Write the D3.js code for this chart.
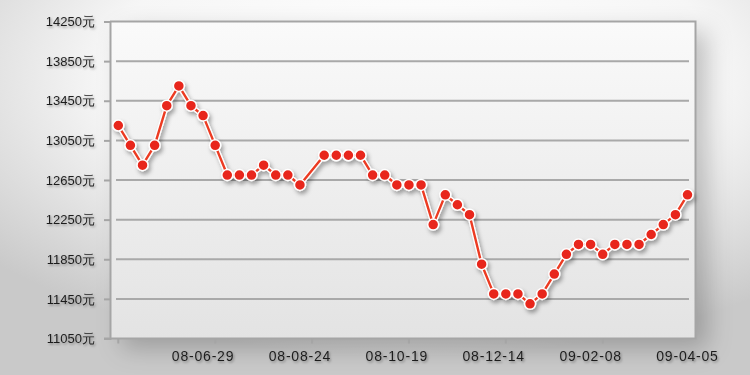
<!DOCTYPE html>
<html>
<head>
<meta charset="utf-8">
<script src="https://cdnjs.cloudflare.com/ajax/libs/d3/7.8.5/d3.min.js"></script>
<style>
  html, body { margin: 0; padding: 0; }
  body { width: 750px; height: 375px; overflow: hidden; background: #fff; }
  text { font-family: "Liberation Sans", Arial, sans-serif; fill: #1e1e1e; }
</style>
</head>
<body>
<div id="area"></div>
<script>
// weekly prices (元), one missing week on 08-08-31
const weeks = ['08-05-11','08-05-18','08-05-25','08-06-01','08-06-08','08-06-15','08-06-22','08-06-29',
  '08-07-06','08-07-13','08-07-20','08-07-27','08-08-03','08-08-10','08-08-17','08-08-24',
  '08-08-31','08-09-07','08-09-14','08-09-21','08-09-28','08-10-05','08-10-12','08-10-19',
  '08-10-26','08-11-02','08-11-09','08-11-16','08-11-23','08-11-30','08-12-07','08-12-14',
  '08-12-21','08-12-28','09-01-04','09-01-11','09-01-18','09-01-25','09-02-01','09-02-08',
  '09-02-15','09-02-22','09-03-01','09-03-08','09-03-15','09-03-22','09-03-29','09-04-05']
const prices = [13200,13000,12800,13000,13400,13600,13400,13300,
  13000,12700,12700,12700,12800,12700,12700,12600,
  null,12900,12900,12900,12900,12700,12700,12600,
  12600,12600,12200,12500,12400,12300,11800,11500,
  11500,11500,11400,11500,11700,11900,12000,12000,
  11900,12000,12000,12000,12100,12200,12300,12500]
const yTicks = [11050,11450,11850,12250,12650,13050,13450,13850,14250]
const xLabels = ['08-06-29','08-08-24','08-10-19','08-12-14','09-02-08','09-04-05']
const xTickMarks = ['08-05-11','08-07-06','08-08-31','08-10-26','08-12-21','09-02-15']

const parse = d3.timeParse('%y-%m-%d')
const data = weeks.map((w, i) => ({ date: parse(w), price: prices[i] }))
                  .filter(d => d.price !== null)

const svg = d3.select('#area')
            .append('svg')
            .attr('width', 750)
            .attr('height', 375)

const defs = svg.append('defs')

const bg = defs.append('radialGradient').attr('id', 'bg')
  .attr('cx', '55%').attr('cy', '20%').attr('r', '75%')
bg.append('stop').attr('offset', '0%').attr('stop-color', '#ffffff')
bg.append('stop').attr('offset', '55%').attr('stop-color', '#f6f6f6')
bg.append('stop').attr('offset', '100%').attr('stop-color', '#c9c9c9')

const plotBg = defs.append('linearGradient').attr('id', 'plotBg')
  .attr('x1', 0).attr('y1', 0).attr('x2', 0).attr('y2', 1)
plotBg.append('stop').attr('offset', '0%').attr('stop-color', '#fafafa')
plotBg.append('stop').attr('offset', '100%').attr('stop-color', '#e3e3e3')

const frameShadow = defs.append('filter').attr('id', 'frameShadow')
  .attr('x', '-10%').attr('y', '-10%').attr('width', '130%').attr('height', '130%')
frameShadow.append('feDropShadow').attr('dx', 12).attr('dy', 10)
  .attr('stdDeviation', 12).attr('flood-color', '#000').attr('flood-opacity', 0.22)

const textShadow = defs.append('filter').attr('id', 'textShadow')
  .attr('x', '-20%').attr('y', '-50%').attr('width', '150%').attr('height', '200%')
textShadow.append('feDropShadow').attr('dx', 1.2).attr('dy', 1.5)
  .attr('stdDeviation', 1).attr('flood-color', '#000').attr('flood-opacity', 0.35)

const markShadow = defs.append('filter').attr('id', 'markShadow')
  .attr('x', '-20%').attr('y', '-20%').attr('width', '140%').attr('height', '140%')
markShadow.append('feDropShadow').attr('dx', 2).attr('dy', 3)
  .attr('stdDeviation', 2).attr('flood-color', '#000').attr('flood-opacity', 0.35)

svg.append('rect')
   .attr('width', 750).attr('height', 375)
   .attr('fill', 'url(#bg)')

const xScale = d3.scaleTime()
                 .domain([parse('08-05-11'), parse('09-04-05')])
                 .range([118.3, 687.5])
const yScale = d3.scaleLinear()
                 .domain([11050, 14250])
                 .range([338.5, 21.5])

const plotLeft = 110, plotRight = 695.5
const plotTop = yScale(14250), plotBottom = yScale(11050)

// plot area
svg.append('rect')
   .attr('x', plotLeft).attr('y', plotTop)
   .attr('width', plotRight - plotLeft).attr('height', plotBottom - plotTop)
   .attr('fill', 'url(#plotBg)')
   .attr('filter', 'url(#frameShadow)')

// gridlines
svg.selectAll('.grid')
   .data(yTicks.slice(1, -1))
   .enter()
   .append('line')
   .attr('class', 'grid')
   .attr('x1', 116).attr('x2', 689)
   .attr('y1', d => yScale(d)).attr('y2', d => yScale(d))
   .attr('stroke', '#a9a9a9')
   .attr('stroke-width', 2)

// frame: top and right
svg.append('path')
   .attr('d', `M${plotLeft},${plotTop}H${plotRight}V${plotBottom}`)
   .attr('fill', 'none')
   .attr('stroke', '#a5a5a5')
   .attr('stroke-width', 2)

// y axis
const yAxis = svg.append('g')
   .attr('transform', `translate(${plotLeft},0)`)
   .call(d3.axisLeft(yScale).tickValues(yTicks).tickSize(6).tickPadding(9)
           .tickFormat(d => d + '元'))
yAxis.select('.domain').attr('stroke', '#a5a5a5').attr('stroke-width', 2)
yAxis.selectAll('.tick line').attr('stroke', '#a5a5a5').attr('stroke-width', 2)
   .filter(d => d === 14250).remove()
yAxis.selectAll('.tick text')
   .attr('font-size', 13)
   .attr('font-family', '"Liberation Sans", Arial, sans-serif')
   .attr('fill', '#1e1e1e')
   .attr('filter', 'url(#textShadow)')

// x axis line and tick marks
svg.append('line')
   .attr('x1', 104).attr('x2', plotRight + 1)
   .attr('y1', plotBottom).attr('y2', plotBottom)
   .attr('stroke', '#a5a5a5').attr('stroke-width', 2)

svg.selectAll('.xtick')
   .data(xTickMarks)
   .enter()
   .append('line')
   .attr('class', 'xtick')
   .attr('x1', d => xScale(parse(d))).attr('x2', d => xScale(parse(d)))
   .attr('y1', plotBottom).attr('y2', plotBottom + 5)
   .attr('stroke', '#a5a5a5').attr('stroke-width', 2)

svg.selectAll('.xlabel')
   .data(xLabels)
   .enter()
   .append('text')
   .attr('class', 'xlabel')
   .attr('x', d => xScale(parse(d)))
   .attr('y', 361)
   .attr('text-anchor', 'middle')
   .attr('font-size', 14)
   .attr('letter-spacing', 0.8)
   .attr('filter', 'url(#textShadow)')
   .text(d => d)

// line
const line = d3.line()
               .x(d => xScale(d.date))
               .y(d => yScale(d.price))

const series = svg.append('g').attr('filter', 'url(#markShadow)')

series.append('path')
      .datum(data)
      .attr('d', line)
      .attr('fill', 'none')
      .attr('stroke', '#ffffff')
      .attr('stroke-width', 5)
      .attr('stroke-linejoin', 'round')

series.append('path')
      .datum(data)
      .attr('d', line)
      .attr('fill', 'none')
      .attr('stroke', '#ec3a22')
      .attr('stroke-width', 2.4)
      .attr('stroke-linejoin', 'round')

series.selectAll('circle')
      .data(data)
      .enter()
      .append('circle')
      .attr('cx', d => xScale(d.date))
      .attr('cy', d => yScale(d.price))
      .attr('r', 5.5)
      .attr('fill', '#e8281b')
      .attr('stroke', '#ffffff')
      .attr('stroke-width', 1.5)
</script>
</body>
</html>
